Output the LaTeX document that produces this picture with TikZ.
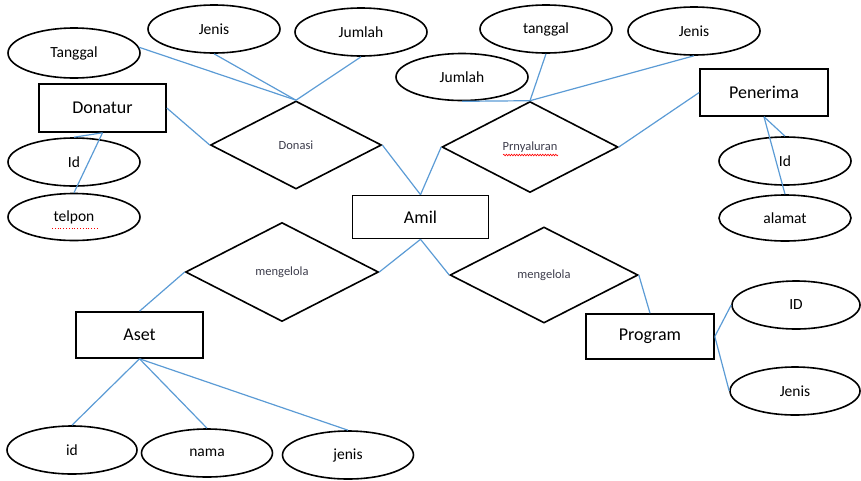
\documentclass[tikz,border=0pt]{standalone}
\usepackage{fontspec}
\setmainfont{Carlito}
\usetikzlibrary{shapes.geometric,decorations.pathmorphing}
\definecolor{linkblue}{RGB}{91,155,213}
\definecolor{reltext}{RGB}{60,60,75}
\tikzset{
  entity/.style={draw=black, line width=1.6pt, rectangle, inner sep=0pt,
    font=\fontsize{18}{20}\selectfont},
  attr/.style={draw=black, line width=1.6pt, ellipse, inner sep=0pt,
    minimum width=132pt, minimum height=48pt, font=\fontsize{15.5}{17}\selectfont},
  rel/.style={draw=black, line width=1.6pt, diamond, inner sep=0pt,
    text=reltext, font=\fontsize{12.5}{14}\selectfont},
  link/.style={draw=linkblue, line width=1.2pt},
}
\begin{document}
\begin{tikzpicture}[x=1pt,y=-1pt]
\useasboundingbox (0,0) rectangle (861,480);
% entities
\node[entity, minimum width=127pt, minimum height=48pt] (donatur) at (102.5,108) {Donatur};
\node[entity, minimum width=136pt, minimum height=43pt] (amil) at (420.5,217) {Amil};
\node[entity, minimum width=128pt, minimum height=47pt] (penerima) at (764,92.5) {Penerima};
\node[entity, minimum width=127pt, minimum height=46pt] (aset) at (139.5,335) {Aset};
\node[entity, minimum width=128pt, minimum height=45pt] (program) at (650,336.5) {Program};
% relationships
\node[rel, minimum width=171pt, minimum height=88pt] (donasi) at (296,145) {Donasi};
\node[rel, minimum width=176pt, minimum height=91pt] (peny) at (530,147) {Prnyaluran};
\node[rel, minimum width=193pt, minimum height=99pt] (kelola1) at (282,272) {mengelola};
\node[rel, minimum width=188pt, minimum height=96pt] (kelola2) at (544,275) {mengelola};
% attributes
\node[attr, minimum height=50pt] (tanggal1) at (74,53) {Tanggal};
\node[attr] (jenis1) at (214,29) {Jenis};
\node[attr] (jumlah1) at (361,32) {Jumlah};
\node[attr] (id1) at (74,162) {Id};
\node[attr, minimum height=47pt] (telpon) at (74,217) {telpon};
\node[attr, minimum height=47pt] (jumlah2) at (462,77) {Jumlah};
\node[attr] (tanggal2) at (546,29) {tanggal};
\node[attr] (jenis2) at (694,31) {Jenis};
\node[attr] (id2) at (785,161) {Id};
\node[attr, minimum height=46pt] (alamat) at (785,218) {alamat};
\node[attr, minimum width=128pt] (idp) at (796,305) {ID};
\node[attr, minimum width=130pt] (jenisp) at (795,391) {Jenis};
\node[attr, minimum width=130pt] (id3) at (72,450) {id};
\node[attr, minimum width=131pt] (nama) at (207,453) {nama};
\node[attr, minimum width=131pt] (jenis3) at (348,455) {jenis};
% spell-check underlines
\draw[red, line width=0.6pt, decorate, decoration={snake, amplitude=0.8pt, segment length=2.6pt}]
  ([shift={(-27,8)}]peny.center) -- ([shift={(28,8)}]peny.center);
\draw[red, line width=0.8pt, dotted] ([shift={(-22,11)}]telpon.center) -- ([shift={(23,11)}]telpon.center);
% connectors
\draw[link] (tanggal1.5) -- (donasi.north);
\draw[link] (jenis1.south) -- (donasi.north);
\draw[link] (jumlah1.south) -- (donasi.north);
\draw[link] (donatur.east) -- (donasi.west);
\draw[link] (donasi.east) -- (amil.north);
\draw[link] (id1.north) -- (donatur.south);
\draw[link] (telpon.north) -- (donatur.south);
\draw[link] (jumlah2.south) -- (peny.north);
\draw[link] (tanggal2.south) -- (peny.north);
\draw[link] (jenis2.south) -- (peny.north);
\draw[link] (penerima.west) -- (peny.east);
\draw[link] (peny.west) -- (amil.north);
\draw[link] (penerima.south) -- (id2.north);
\draw[link] (penerima.south) -- (alamat.north);
\draw[link] (kelola1.west) -- (aset.north);
\draw[link] (kelola1.east) -- (amil.south);
\draw[link] (amil.south) -- (kelola2.west);
\draw[link] (kelola2.east) -- (program.north);
\draw[link] (program.east) -- (idp.west);
\draw[link] (program.east) -- (jenisp.west);
\draw[link] (aset.south) -- (id3.north);
\draw[link] (aset.south) -- (nama.north);
\draw[link] (aset.south) -- (jenis3.north);
\end{tikzpicture}
\end{document}
